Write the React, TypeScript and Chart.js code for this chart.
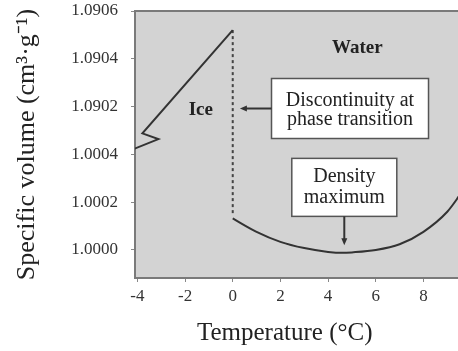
import React, { useEffect, useRef } from "react";
import { Chart, registerables } from "chart.js";

Chart.register(...registerables);

// Axis tick values (positions on the broken axis) and their printed labels
const yTickPositions = [0, 1, 2, 3, 4, 5];
const yTickLabels = ["1.0000", "1.0002", "1.0004", "1.0902", "1.0904", "1.0906"];
const xTicks = [-4, -2, 0, 2, 4, 6, 8];

// Ice branch (with axis-break zigzag at the left end)
const iceTemps = [0, -3.79, -3.12, -4.17];
const iceVolumes = [4.6, 2.44, 2.32, 2.11];

// Discontinuity at 0 °C
const jumpTemps = [0, 0];
const jumpVolumes = [4.6, 0.77];

// Liquid water branch
const waterTemps = [0, 1, 2, 3, 4, 4.6, 5, 6, 7, 8, 9, 9.6];
const waterVolumes = [0.66, 0.38, 0.17, 0.04, -0.04, -0.06, -0.05, 0.0, 0.12, 0.38, 0.8, 1.2];

const SERIF = "'Liberation Serif', 'Times New Roman', serif";

function arrow(ctx: CanvasRenderingContext2D, x1: number, y1: number, x2: number, y2: number) {
  const ang = Math.atan2(y2 - y1, x2 - x1);
  const len = 7;
  const w = 3;
  ctx.beginPath();
  ctx.moveTo(x1, y1);
  ctx.lineTo(x2 - Math.cos(ang) * len * 0.6, y2 - Math.sin(ang) * len * 0.6);
  ctx.stroke();
  ctx.beginPath();
  ctx.moveTo(x2, y2);
  ctx.lineTo(x2 - Math.cos(ang) * len - Math.sin(ang) * w, y2 - Math.sin(ang) * len + Math.cos(ang) * w);
  ctx.lineTo(x2 - Math.cos(ang) * len + Math.sin(ang) * w, y2 - Math.sin(ang) * len - Math.cos(ang) * w);
  ctx.closePath();
  ctx.fill();
}

const decorPlugin = {
  id: "decor",
  beforeDraw(chart: any) {
    const { ctx, chartArea: a } = chart;
    ctx.save();
    ctx.fillStyle = "#d3d3d3";
    ctx.fillRect(a.left, a.top, a.right - a.left, a.bottom - a.top);
    ctx.restore();
  },
  afterDraw(chart: any) {
    const { ctx, chartArea: a, scales } = chart;
    const X = (v: number) => scales.x.getPixelForValue(v);
    const Y = (v: number) => scales.y.getPixelForValue(v);
    ctx.save();
    // top frame line
    ctx.strokeStyle = "#7a7a7a";
    ctx.lineWidth = 2;
    ctx.beginPath();
    ctx.moveTo(a.left - 1, a.top);
    ctx.lineTo(a.right, a.top);
    ctx.stroke();

    // x-axis title (placed under the visible part of the original axis)
    ctx.fillStyle = "#222";
    ctx.textAlign = "center";
    ctx.textBaseline = "middle";
    ctx.font = `25px ${SERIF}`;
    ctx.fillText("Temperature (°C)", X(2.18), 333);

    ctx.font = `bold 19px ${SERIF}`;
    ctx.fillText("Water", X(5.23), Y(4.23));
    ctx.fillText("Ice", X(-1.34), Y(2.93));

    // Boxes
    const boxes = [
      { cx: 4.92, cy: 2.96, w: 157, h: 60, lines: ["Discontinuity at", "phase transition"], gap: 19, dy: 2 },
      { cx: 4.68, cy: 1.31, w: 105, h: 58, lines: ["Density", "maximum"], gap: 21, dy: 0 },
    ];
    ctx.font = `20px ${SERIF}`;
    boxes.forEach((b) => {
      const cx = X(b.cx);
      const cy = Y(b.cy);
      ctx.fillStyle = "#ffffff";
      ctx.fillRect(cx - b.w / 2, cy - b.h / 2, b.w, b.h);
      ctx.strokeStyle = "#555";
      ctx.lineWidth = 1.5;
      ctx.strokeRect(cx - b.w / 2, cy - b.h / 2, b.w, b.h);
      ctx.fillStyle = "#222";
      b.lines.forEach((t, i) => {
        ctx.fillText(t, cx, cy + b.dy + (i - (b.lines.length - 1) / 2) * b.gap);
      });
    });

    // Arrows
    ctx.strokeStyle = "#333";
    ctx.fillStyle = "#333";
    ctx.lineWidth = 2;
    const b1 = boxes[0];
    arrow(ctx, X(b1.cx) - b1.w / 2, Y(b1.cy), X(0.3), Y(b1.cy));
    const b2 = boxes[1];
    arrow(ctx, X(b2.cx), Y(b2.cy) + b2.h / 2, X(b2.cx), Y(0.1));
    ctx.restore();
  },
};

export default function App() {
  const ref = useRef<HTMLCanvasElement>(null);
  useEffect(() => {
    const toPts = (xs: number[], ys: number[]) => xs.map((x, i) => ({ x, y: ys[i] }));
    const chart = new Chart(ref.current!, {
      type: "line",
      data: {
        datasets: [
          {
            data: toPts(iceTemps, iceVolumes),
            borderColor: "#333",
            borderWidth: 2,
            pointRadius: 0,
            tension: 0,
          },
          {
            data: toPts(jumpTemps, jumpVolumes),
            borderColor: "#444",
            borderWidth: 2,
            borderDash: [3, 3],
            pointRadius: 0,
            tension: 0,
          },
          {
            data: toPts(waterTemps, waterVolumes),
            borderColor: "#333",
            borderWidth: 2,
            pointRadius: 0,
            cubicInterpolationMode: "monotone",
          },
        ],
      },
      options: {
        responsive: false,
        animation: false,
        devicePixelRatio: 1,
        layout: { padding: { top: 11, right: 0, left: 0, bottom: 0 } },
        plugins: { legend: { display: false }, tooltip: { enabled: false }, title: { display: false } },
        scales: {
          x: {
            type: "linear",
            min: -4.1,
            max: 9.45,
            afterBuildTicks: (s: any) => {
              s.ticks = xTicks.map((v) => ({ value: v }));
            },
            afterFit: (s: any) => {
              s.height = 73;
              s.paddingLeft = 0;
              s.paddingRight = 0;
            },
            grid: { drawOnChartArea: false, drawTicks: true, tickLength: 4, color: "#888" },
            border: { display: true, color: "#7a7a7a", width: 2 },
            ticks: {
              color: "#333",
              font: { family: SERIF, size: 17 },
              padding: 4,
              maxRotation: 0,
              callback: (v: any) => String(v),
            },
            title: { display: false },
          },
          y: {
            type: "linear",
            min: -0.586,
            max: 5,
            afterBuildTicks: (s: any) => {
              s.ticks = yTickPositions.map((v) => ({ value: v }));
            },
            afterFit: (s: any) => {
              s.width = 135;
              s.paddingTop = 0;
              s.paddingBottom = 0;
            },
            grid: { drawOnChartArea: false, drawTicks: true, tickLength: 4, color: "#888" },
            border: { display: true, color: "#7a7a7a", width: 2 },
            ticks: {
              color: "#333",
              font: { family: SERIF, size: 17 },
              padding: 13,
              callback: (v: any) => yTickLabels[yTickPositions.indexOf(Number(v))] ?? "",
            },
            title: {
              display: true,
              text: "Specific volume (cm³·g⁻¹)",
              color: "#222",
              font: { family: SERIF, size: 26 },
              padding: { top: 12, bottom: 0 },
            },
          },
        },
      },
      plugins: [decorPlugin],
    });
    return () => chart.destroy();
  }, []);
  return (
    <div style={{ position: "absolute", left: 0, top: 0, width: 458, height: 351, background: "#fff" }}>
      <canvas ref={ref} width={458} height={351} style={{ display: "block" }} />
    </div>
  );
}
